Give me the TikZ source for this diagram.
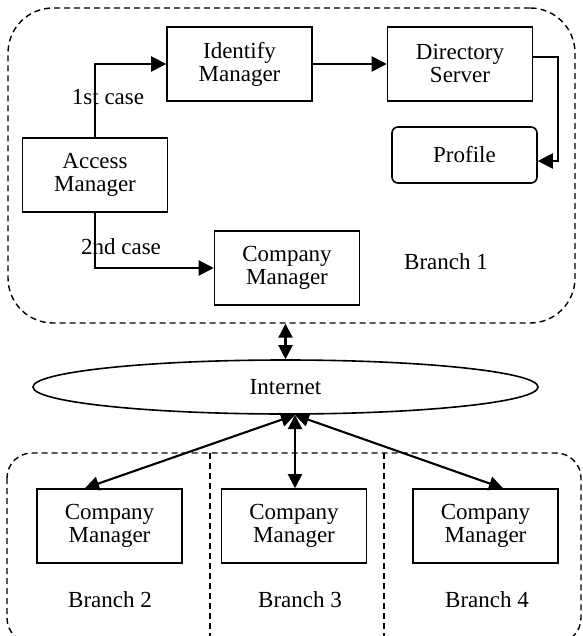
\documentclass[tikz,border=0pt]{standalone}
\usepackage{fontspec}
\setmainfont{Liberation Serif}
\usetikzlibrary{arrows.meta,shapes.geometric,positioning}

\begin{document}
\begin{tikzpicture}[x=1pt,y=-1pt,
                    every node/.style={font=\fontsize{23}{23}\selectfont},
                    box/.style={draw, line width=1.6pt, minimum width=145pt, minimum height=74pt, inner sep=0pt, align=center},
                    frame/.style={draw, dash pattern=on 6pt off 4pt, line width=1.4pt},
                    conn/.style={line width=2.1pt, -{Triangle[length=15pt,width=15pt]}},
                    dconn/.style={line width=2.1pt, {Triangle[length=14pt,width=14pt]}-{Triangle[length=14pt,width=14pt]}}]
                    \useasboundingbox (0,0) rectangle (582,636);

                    % Branch 1
                    \node[frame, rounded corners=45pt, minimum width=567pt, minimum height=315pt] (br1) at (291.5,165.5) {};
                    \node[box] (idm) at (239.5,64) {Identify\\Manager};
                    \node[box] (dir) at (460,64) {Directory\\Server};
                    \node[box, rounded corners=6pt, minimum height=56pt] (prof) at (464.5,155) {Profile};
                    \node[box] (acc) at (95,175) {Access\\Manager};
                    \node[box] (cm1) at (287,268) {Company\\Manager};
                    \node (case1) at (108,97) {1st case};
                    \node (case2) at (121,247) {2nd case};
                    \node (lbl1) at (446,262) {Branch 1};

                    \draw[conn] (acc.north) |- (idm.west);
                    \draw[conn] (idm.east) -- (dir.west);
                    \draw[conn] ([yshift=7pt]dir.east) -- ++(25,0) |- ([yshift=-6pt]prof.east);
                    \draw[conn] (acc.south) |- (cm1.west);

                    % Internet
                    \node[draw, ellipse, line width=1.6pt, minimum width=505pt, minimum height=54pt, inner sep=0pt] (inet) at (285.5,387) {Internet};
                    \draw[dconn] (br1.south -| inet.north) -- (inet.north);

                    % Branches 2-4
                    \draw[frame, rounded corners=25pt] (7,453) rectangle (581,643);
                    \draw[frame] (210,453) -- (210,636);
                    \draw[frame] (384,453) -- (384,636);
                    \node[box] (cm2) at (109.5,526) {Company\\Manager};
                    \node[box] (cm3) at (294,526) {Company\\Manager};
                    \node[box] (cm4) at (485.5,526) {Company\\Manager};
                    \node (lbl2) at (110,600) {Branch 2};
                    \node (lbl3) at (300,600) {Branch 3};
                    \node (lbl4) at (487,600) {Branch 4};

                    \coordinate (hub) at (295,415);
                    \draw[dconn] (hub) -- ([xshift=-24.5pt]cm2.north);
                    \draw[dconn] (hub) -- (cm3.north -| hub);
                    \draw[dconn] (hub) -- ([xshift=17.5pt]cm4.north);
                \end{tikzpicture}
\end{document}
